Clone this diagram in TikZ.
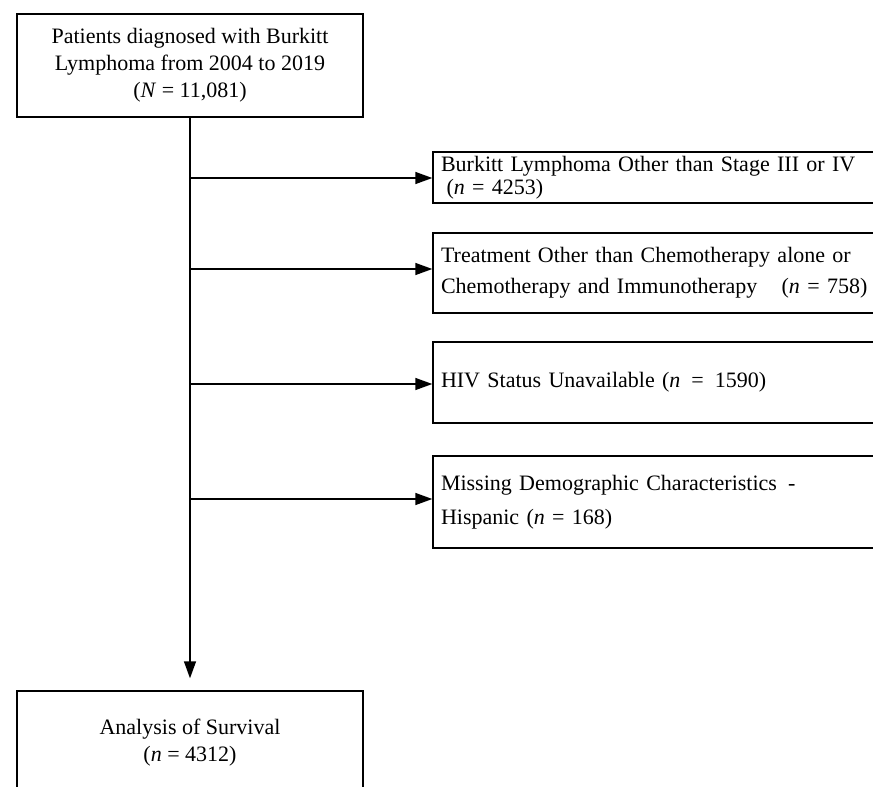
\documentclass[tikz,border=0pt]{standalone}
\usepackage{fontspec}
\setmainfont{Liberation Serif}
\usetikzlibrary{arrows.meta,positioning}

\begin{document}
\begin{tikzpicture}[x=1pt,y=-1pt,>={Triangle[length=17pt,width=12pt]},line width=1.4pt,
  box/.style={draw,rectangle,inner sep=0pt,font=\fontsize{22}{27}\selectfont},
  ex/.style={box,minimum width=448,text width=432,align=left}]
  \clip (0,0) rectangle (873,787);
  \node[box,minimum width=346,minimum height=103,align=center] (0) at (190,65.5)
    {Patients diagnosed with Burkitt\\Lymphoma from 2004 to 2019\\(\textit{N} = 11,081)};
  \node[box,minimum width=346,minimum height=104,align=center] (5) at (190,743)
    {Analysis of Survival\\(\textit{n} = 4312)};

  \node[ex,minimum height=51,font=\fontsize{22}{23}\selectfont] (1) at (657,177.5)
    {Burkitt Lymphoma Other than Stage III or IV\\\hspace{0.25em}(\textit{n} = 4253)};
  \node[ex,minimum height=80,font=\fontsize{22}{31}\selectfont] (2) at (657,273)
    {Treatment Other than Chemotherapy alone or\\Chemotherapy and Immunotherapy\hspace{1.1em}(\textit{n} = 758)};
  \node[ex,minimum height=81] (3) at (657,382.5)
    {HIV Status Unavailable (\textit{n}\, =\, 1590)};
  \node[ex,minimum height=92,font=\fontsize{22}{34}\selectfont] (4) at (657,502)
    {Missing Demographic Characteristics\hspace{0.5em}-\\Hispanic (\textit{n} = 168)};

  % main flow
  \draw[->,shorten >=12pt] (0) -- (5);
  % exclusions
  \coordinate (c1) at (190,178);
  \coordinate (c2) at (190,269);
  \coordinate (c3) at (190,384);
  \coordinate (c4) at (190,499);
  \draw[->] (c1) -- (c1 -| 1.west);
  \draw[->] (c2) -- (c2 -| 2.west);
  \draw[->] (c3) -- (c3 -| 3.west);
  \draw[->] (c4) -- (c4 -| 4.west);
\end{tikzpicture}
\end{document}
